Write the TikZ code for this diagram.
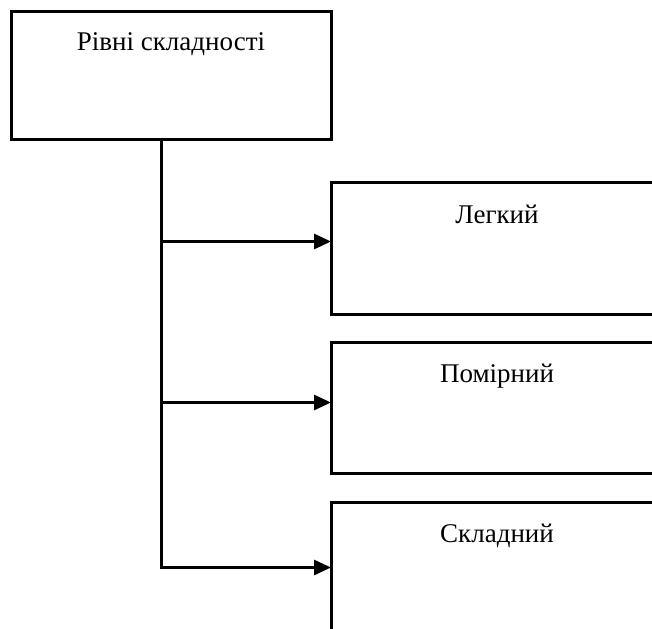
\documentclass[tikz,border=0pt]{standalone}
\usepackage{fontspec}
\setmainfont{Liberation Serif}
\usetikzlibrary{positioning,arrows.meta}
\tikzstyle{lbox}=[rectangle, draw=black, line width=3pt, outer sep=0pt, minimum width=320pt,
 inner sep=0pt, text height=39pt, text depth=89pt, font=\fontsize{27}{30}\selectfont]
\tikzstyle{sbox}=[rectangle, draw=black, line width=3pt, outer sep=0pt, minimum width=332pt,
 inner sep=0pt, text height=40pt, text depth=91pt, font=\fontsize{27}{30}\selectfont]
\tikzstyle{tline}=[line width=3pt]
\tikzstyle{aline}=[-{Triangle[length=17pt,width=15pt]}, line width=3pt]

\begin{document}
\begin{tikzpicture}[x=1pt, y=1pt, node distance=0pt]
    \useasboundingbox (0,0) rectangle (652,-628);
    \clip (0,0) rectangle (652,-628);

    \node (lvl) [lbox, anchor=north west] at (11,-12) {Рівні складності};

    \node (easy) [sbox, below right=43pt and 0pt of lvl] {Легкий};
    \node (med) [sbox, below=28pt of easy] {Помірний};
    \node (hard) [sbox, below=29pt of med] {Складний};

% lines
    \coordinate (trunk) at ([xshift=-10pt]lvl.south);
    \coordinate (ein) at ([yshift=7pt]easy.west);
    \coordinate (min) at ([yshift=5pt]med.west);

   \draw[tline] (trunk) -- (trunk |- hard.west);
   \draw[aline] (trunk |- ein) -- (ein);
   \draw[aline] (trunk |- min) -- (min);
   \draw[aline] (trunk) |- (hard.west);
\end{tikzpicture}
\end{document}
